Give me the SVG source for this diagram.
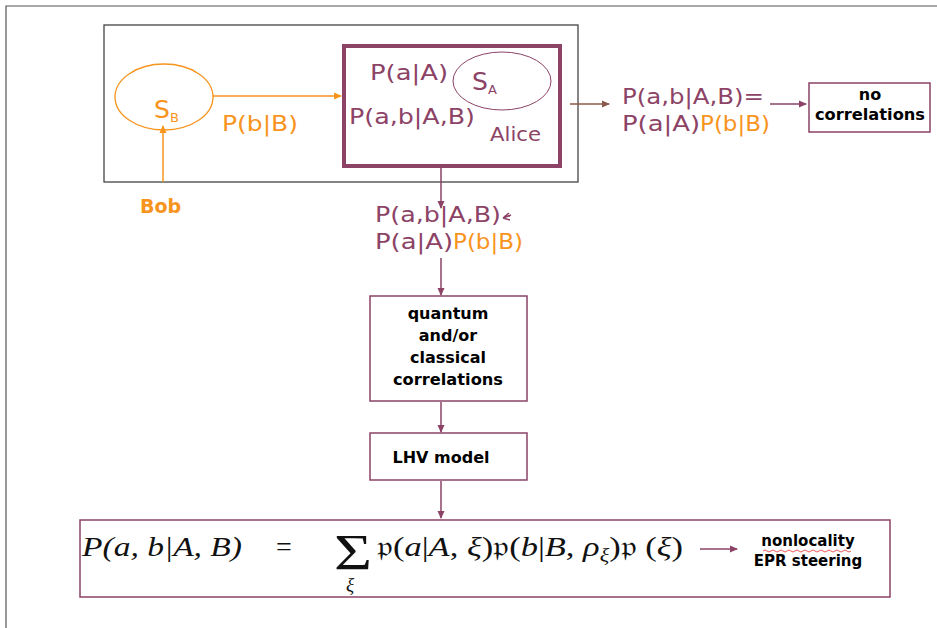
<svg xmlns="http://www.w3.org/2000/svg" width="937" height="628" viewBox="0 0 937 628">
<defs>
<marker id="ap" markerWidth="8" markerHeight="8" refX="7" refY="4" orient="auto" markerUnits="userSpaceOnUse"><path d="M0,0.5 L8,4 L0,7.5 Z" fill="#8c4366"/></marker>
<marker id="ao" markerWidth="8" markerHeight="8" refX="7" refY="4" orient="auto" markerUnits="userSpaceOnUse"><path d="M0,0.5 L8,4 L0,7.5 Z" fill="#f7941d"/></marker>
<marker id="ab" markerWidth="8" markerHeight="8" refX="7" refY="4" orient="auto" markerUnits="userSpaceOnUse"><path d="M0,0.5 L8,4 L0,7.5 Z" fill="#8c5a4a"/></marker>
</defs>
<style>
.pu{fill:#8c4366;font-family:"DejaVu Sans",sans-serif;font-size:21px}
.or{fill:#f7941d;font-family:"DejaVu Sans",sans-serif;font-size:21px}
.bk{fill:#000;font-family:"DejaVu Sans",sans-serif;font-size:16px;font-weight:bold;text-anchor:middle}
.m{fill:#111;font-family:"Liberation Serif","DejaVu Serif",serif;font-size:28px}
.mi{font-style:italic}
.box{fill:#fff;stroke:#8c4366;stroke-width:1.5}
.cp{stroke:#8c4366;stroke-width:1.5;fill:none;marker-end:url(#ap)}
.co{stroke:#f7941d;stroke-width:1.5;fill:none;marker-end:url(#ao)}
</style>
<rect width="937" height="628" fill="#fff"/>
<path d="M6,640 L6,6 L950,6" fill="none" stroke="#555" stroke-width="1.2"/>

<g id="system">
<rect x="104" y="25" width="474" height="157" fill="none" stroke="#444" stroke-width="1.3"/>
</g>

<g id="bobSource">
<ellipse cx="164" cy="97" rx="49" ry="33" fill="none" stroke="#f7941d" stroke-width="1.3"/>
<text class="or" x="154" y="118" style="font-size:25px">S<tspan font-size="13" dy="4">B</tspan></text>
</g>
<g id="bob"><text class="or" x="140" y="213" font-weight="bold" style="font-size:19px">Bob</text></g>
<g id="pbB"><text class="or" x="222" y="131" textLength="76" lengthAdjust="spacingAndGlyphs">P(b|B)</text></g>

<g id="alice">
<rect x="344" y="46" width="216" height="120" fill="none" stroke="#8c4366" stroke-width="4"/>
<ellipse cx="502" cy="81" rx="49" ry="29" fill="none" stroke="#8c4366" stroke-width="1"/>
<text class="pu" x="472" y="90" style="font-size:25px">S<tspan font-size="13" dy="4">A</tspan></text>
<text class="pu" x="370" y="80" textLength="78" lengthAdjust="spacingAndGlyphs">P(a|A)</text>
<text class="pu" x="349" y="124" textLength="126" lengthAdjust="spacingAndGlyphs">P(a,b|A,B)</text>
<text class="pu" x="490" y="141" style="font-size:19px" textLength="51" lengthAdjust="spacingAndGlyphs">Alice</text>
</g>

<g id="factorRight">
<text class="pu" x="622" y="104" textLength="142" lengthAdjust="spacingAndGlyphs">P(a,b|A,B)=</text>
<text class="pu" x="622" y="131" textLength="78" lengthAdjust="spacingAndGlyphs">P(a|A)</text>
<text class="or" x="700" y="131" textLength="70" lengthAdjust="spacingAndGlyphs">P(b|B)</text>
</g>

<g id="noCorrelations">
<rect class="box" x="809" y="83" width="121" height="49" stroke-width="1.2"/>
<text class="bk" x="870" y="100">no</text>
<text class="bk" x="870" y="120" textLength="110" lengthAdjust="spacingAndGlyphs">correlations</text>
</g>

<g id="factorDown">
<text class="pu" x="375" y="222" textLength="126" lengthAdjust="spacingAndGlyphs">P(a,b|A,B)</text>
<path d="M511,215 L503,218 M503,218 L509,213 M503,218 L510,220 M504,216.5 L510,216" stroke="#8c4366" stroke-width="1.6" fill="none"/>
<text class="pu" x="375" y="249" textLength="78" lengthAdjust="spacingAndGlyphs">P(a|A)</text>
<text class="or" x="453" y="249" textLength="70" lengthAdjust="spacingAndGlyphs">P(b|B)</text>
</g>

<g id="quantum">
<rect class="box" x="370" y="296" width="157" height="105"/>
<text class="bk" x="448" y="319">quantum</text>
<text class="bk" x="448" y="341">and/or</text>
<text class="bk" x="448" y="363">classical</text>
<text class="bk" x="448" y="385" textLength="110" lengthAdjust="spacingAndGlyphs">correlations</text>
</g>

<g id="lhv">
<rect class="box" x="370" y="433" width="157" height="47"/>
<text class="bk" x="441" y="463">LHV model</text>
</g>

<g id="formula">
<rect class="box" x="80" y="520" width="810" height="77"/>
<text class="m mi" x="82" y="556" textLength="160" lengthAdjust="spacingAndGlyphs">P(a, b|A, B)</text>
<text class="m" x="276" y="556">=</text>
<text class="m" x="334" y="569" style="font-size:50px" textLength="38" lengthAdjust="spacingAndGlyphs">Σ</text>
<text class="m mi" x="346" y="591" style="font-size:19px">ξ</text>
<text class="m" x="377" y="556" textLength="306" lengthAdjust="spacingAndGlyphs">𝔭(<tspan font-style="italic">a</tspan>|<tspan font-style="italic">A</tspan>, <tspan font-style="italic">ξ</tspan>)𝔭(<tspan font-style="italic">b</tspan>|<tspan font-style="italic">B</tspan>, <tspan font-style="italic">ρ<tspan font-size="18" dy="5">ξ</tspan></tspan><tspan dy="-5">)𝔭 (</tspan><tspan font-style="italic">ξ</tspan>)</text>
</g>

<g id="nonlocality">
<text class="bk" x="808" y="546" style="font-size:15px">nonlocality</text>
<path d="M763,551 q2,-2 4,0 t4,0 t4,0 t4,0 t4,0 t4,0 t4,0 t4,0 t4,0 t4,0 t4,0 t4,0 t4,0 t4,0 t4,0 t4,0 t4,0 t4,0 t4,0 t4,0 t4,0 t4,0" fill="none" stroke="#e53030" stroke-width="0.8"/>
<text class="bk" x="808" y="566" style="font-size:15px">EPR steering</text>
</g>

<g id="connectors">
<line class="co" x1="213" y1="96" x2="341" y2="96"/>
<line class="co" x1="163" y1="182" x2="163" y2="126"/>
<line x1="570" y1="104" x2="609" y2="104" stroke="#8c5a4a" stroke-width="1.5" marker-end="url(#ab)"/>
<line class="cp" x1="770" y1="104" x2="806" y2="104"/>
<line class="cp" x1="441" y1="168" x2="441" y2="208"/>
<line class="cp" x1="441" y1="258" x2="441" y2="295"/>
<line class="cp" x1="441" y1="402" x2="441" y2="432"/>
<line class="cp" x1="441" y1="481" x2="441" y2="518"/>
<line class="cp" x1="700" y1="549" x2="737" y2="549"/>
</g>
</svg>
